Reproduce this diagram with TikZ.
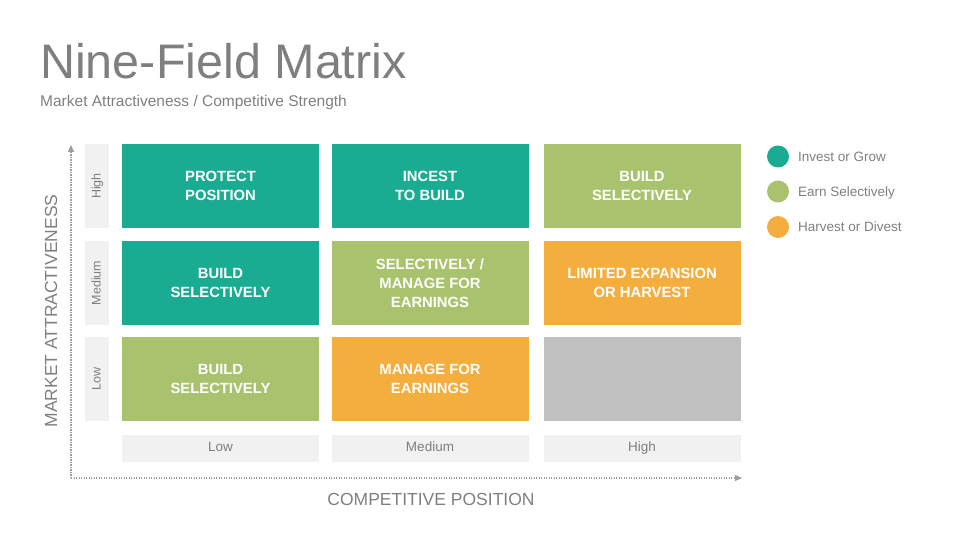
\documentclass[tikz,border=0pt]{standalone}
\usepackage{fontspec}
\setmainfont{Liberation Sans}
\usetikzlibrary{arrows.meta}
\definecolor{teal}{HTML}{1AAB93}
\definecolor{lgreen}{HTML}{A9C26E}
\definecolor{orng}{HTML}{F4AE3D}
\definecolor{cgray}{HTML}{C0C0C0}
\definecolor{lbox}{HTML}{F1F1F1}
\definecolor{txtgray}{HTML}{7F7F7F}
\definecolor{axgray}{HTML}{9C9C9C}
\tikzset{
  cell/.style={minimum width=197pt, minimum height=84pt, inner sep=0pt, text=white, align=center,
    font=\fontsize{14.8}{19}\selectfont\bfseries},
  rowlab/.style={fill=lbox, minimum width=84pt, minimum height=24pt, inner sep=0pt, rotate=90,
    text height=9.5pt, text depth=2.5pt,
    text=txtgray, font=\fontsize{12.5}{14}\selectfont},
  collab/.style={fill=lbox, minimum width=197pt, minimum height=27pt, inner sep=0pt,
    text height=10pt, text depth=2.8pt,
    text=txtgray, font=\fontsize{13.5}{15}\selectfont},
  legdot/.style={circle, minimum size=22pt, inner sep=0pt},
  legtxt/.style={anchor=base west, inner sep=0pt, text=txtgray, font=\fontsize{13.5}{15}\selectfont},
  axis/.style={draw=axgray, line width=1.1pt, dash pattern=on 1.1pt off 1.4pt, -{Triangle[length=7pt,width=6pt]}}
}
\begin{document}
\begin{tikzpicture}[x=1pt,y=-1pt]
\useasboundingbox (0,0) rectangle (960,540);
% title
\node[anchor=base west, inner sep=0pt, text=txtgray, font=\fontsize{48.5}{50}\selectfont] (title) at (40,79) {Nine-Field Matrix};
\node[anchor=base west, inner sep=0pt, text=txtgray, font=\fontsize{15.5}{17}\selectfont] (subtitle) at (40,107) {Market Attractiveness / Competitive Strength};
% axes
\coordinate (origin) at (71,478);
\coordinate (ytip) at (71,145);
\coordinate (xtip) at (742,478);
\draw[axis] (origin) -- (ytip);
\draw[axis] (origin) -- (xtip);
\node[rotate=90, inner sep=0pt, text=txtgray, font=\fontsize{17.5}{19}\selectfont] (ylab) at (51,311) {MARKET ATTRACTIVENESS};
\node[anchor=base, inner sep=0pt, text=txtgray, font=\fontsize{17.5}{19}\selectfont] (xlab) at (431,505.5) {COMPETITIVE POSITION};
% row labels
\node[rowlab] (rh) at (97,186) {High};
\node[rowlab] (rm) at (97,283) {Medium};
\node[rowlab] (rl) at (97,379) {Low};
% column labels
\node[collab] (cl) at (220.5,448) {Low};
\node[collab] (cm) at (430,448) {Medium};
\node[collab] (ch) at (642,448) {High};
% cells
\node[cell, fill=teal] (c11) at (220.5,186) {PROTECT\\POSITION};
\node[cell, fill=teal] (c12) at (430,186) {INCEST\\TO BUILD};
\node[cell, fill=lgreen] (c13) at (642,186) {BUILD\\SELECTIVELY};
\node[cell, fill=teal] (c21) at (220.5,283) {BUILD\\SELECTIVELY};
\node[cell, fill=lgreen] (c22) at (430,283) {SELECTIVELY /\\MANAGE FOR\\EARNINGS};
\node[cell, fill=orng] (c23) at (642,283) {LIMITED EXPANSION\\OR HARVEST};
\node[cell, fill=lgreen] (c31) at (220.5,379) {BUILD\\SELECTIVELY};
\node[cell, fill=orng] (c32) at (430,379) {MANAGE FOR\\EARNINGS};
\node[cell, fill=cgray] (c33) at (642,379) {};
% legend
\node[legdot, fill=teal] (d1) at (778,156.5) {};
\node[legdot, fill=lgreen] (d2) at (778,191.5) {};
\node[legdot, fill=orng] (d3) at (778,227) {};
\node[legtxt] (l1) at (798,161.3) {Invest or Grow};
\node[legtxt] (l2) at (798,196.3) {Earn Selectively};
\node[legtxt] (l3) at (798,231.8) {Harvest or Divest};
\end{tikzpicture}
\end{document}
